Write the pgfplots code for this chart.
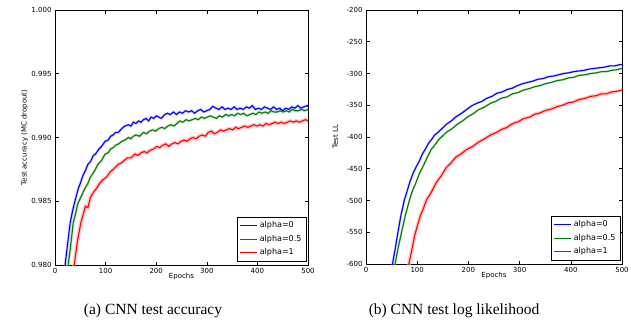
\documentclass[border=0pt]{standalone}
\usepackage{fontspec}
\setmainfont{Liberation Serif}
\setsansfont{DejaVu Sans}
\usepackage{pgfplots}
\usepackage{pgfplotstable}
\pgfplotsset{compat=1.18}
\definecolor{mblue}{rgb}{0,0,1}
\definecolor{mgreen}{rgb}{0,0.5,0}
\definecolor{mred}{rgb}{1,0,0}

\pgfplotstableread{
x y
10 0.9755
15 0.9780
20 0.9800
25 0.9817
30 0.9833
35 0.9843
40 0.9851
46 0.9860
50 0.9864
55 0.9870
60 0.9874
65 0.9879
70 0.9881
76 0.9886
80 0.9887
87 0.9891
92 0.9893
99 0.9897
105 0.9898
110 0.9901
115 0.9902
120 0.9904
125 0.9904
132 0.9907
138 0.9909
145 0.9910
150 0.9909
155 0.9912
160 0.9911
165 0.9913
170 0.9912
175 0.9914
180 0.9915
185 0.9913
190 0.9916
195 0.9915
200 0.9917
205 0.9916
210 0.9915
217 0.9918
222 0.9919
228 0.9918
234 0.9920
240 0.9918
246 0.9920
252 0.9919
258 0.9921
264 0.9920
270 0.9921
276 0.9919
282 0.9921
288 0.9922
294 0.9920
300 0.9921
306 0.9922
312 0.99245
318 0.9923
324 0.9922
330 0.9924
336 0.9922
342 0.9923
348 0.9922
354 0.9924
360 0.9922
366 0.9923
372 0.9922
378 0.9924
384 0.9923
390 0.9925
396 0.9922
402 0.9923
408 0.9922
414 0.9924
420 0.9923
426 0.9922
432 0.9924
438 0.9922
444 0.9923
450 0.9921
456 0.9923
462 0.9922
468 0.9924
474 0.9923
480 0.9925
486 0.9923
492 0.9924
498 0.9925
500 0.9924
}\accblue

\pgfplotstableread{
x y
15 0.9760
20 0.9780
26 0.9800
30 0.9812
36 0.9833
40 0.9839
45 0.9848
52 0.9854
59 0.9860
65 0.9864
70 0.9869
77 0.9873
85 0.9879
92 0.9882
99 0.9887
105 0.9888
110 0.9891
115 0.9892
120 0.9894
126 0.9895
132 0.9897
138 0.9898
145 0.9900
150 0.9899
155 0.9901
160 0.9902
167 0.9901
175 0.9904
181 0.9903
187 0.9905
193 0.9906
199 0.9905
205 0.9907
211 0.9908
217 0.9907
223 0.9909
229 0.9910
235 0.9909
241 0.9911
247 0.9913
253 0.9912
259 0.9914
265 0.9913
271 0.9914
277 0.9915
283 0.9914
289 0.9916
295 0.9915
301 0.9916
307 0.9917
313 0.9916
319 0.9915
325 0.9917
331 0.9916
337 0.9918
343 0.9917
349 0.9918
355 0.9917
361 0.9919
367 0.9918
373 0.9919
379 0.9917
385 0.9918
391 0.9919
397 0.9918
403 0.9920
409 0.9919
415 0.9920
421 0.9919
427 0.9921
433 0.9920
439 0.9920
445 0.9921
451 0.9920
457 0.9921
463 0.9920
469 0.9922
475 0.9921
481 0.9921
487 0.9922
493 0.9921
500 0.9922
}\accgreen

\pgfplotstableread{
x y
28 0.9760
33 0.9782
38 0.9800
44 0.9818
51 0.9833
56 0.9840
60 0.9846
65 0.9845
70 0.9853
76 0.9857
82 0.9860
88 0.9864
95 0.9867
102 0.9869
109 0.9873
115 0.9875
120 0.9877
125 0.9879
131 0.9880
137 0.9882
143 0.9884
150 0.9884
158 0.9887
164 0.9886
170 0.9888
176 0.9889
182 0.9888
188 0.9890
195 0.9891
201 0.9893
207 0.9892
213 0.9894
219 0.9895
225 0.9893
231 0.9895
237 0.9896
243 0.9895
249 0.9897
255 0.9898
261 0.9897
267 0.9899
273 0.9900
279 0.9899
285 0.9901
291 0.9902
297 0.9901
303 0.9904
309 0.9905
315 0.9903
321 0.9904
327 0.9906
333 0.9905
339 0.9906
345 0.9907
351 0.9906
357 0.9908
363 0.9907
369 0.9908
375 0.9909
381 0.9908
387 0.9909
393 0.9910
399 0.9909
405 0.9910
411 0.9909
417 0.9911
423 0.9910
429 0.9911
435 0.9912
441 0.9911
447 0.9912
453 0.9911
459 0.9912
465 0.9913
471 0.9912
477 0.9913
483 0.9912
489 0.9913
495 0.9914
500 0.9913
}\accred

\pgfplotstableread{
x y
45 -640
52 -599
57 -576
62 -552
68 -524
75 -499
80 -486
86 -470
92 -457
98 -447
104 -438
110 -427
116 -419
122 -410
128 -404
134 -397
140 -393
148 -387
157 -380
166 -375
176 -368
186 -363
196 -357
206 -351
216 -347
226 -344
236 -339
246 -336
256 -331
266 -329
276 -325
286 -323
296 -319
306 -316
316 -314
326 -312
336 -309
346 -308
356 -305
366 -304
376 -302
386 -300
396 -299
406 -297
416 -296
426 -295
436 -293
446 -292
456 -291
466 -290
476 -288
486 -288
496 -286
500 -286
}\llblue

\pgfplotstableread{
x y
50 -640
57 -599
63 -574
70 -548
77 -523
85 -499
91 -484
98 -471
104 -458
111 -447
119 -433
127 -420
134 -413
142 -404
150 -398
158 -392
168 -387
178 -380
188 -375
199 -368
210 -363
220 -357
231 -353
243 -347
253 -344
264 -339
275 -337
286 -332
297 -330
308 -326
318 -324
329 -321
340 -319
351 -316
362 -314
374 -311
384 -310
395 -307
405 -306
416 -303
428 -302
439 -300
450 -299
460 -297
470 -297
480 -295
490 -294
500 -292
}\llgreen

\pgfplotstableread{
x y
78 -640
84 -599
90 -576
95 -555
100 -541
106 -524
112 -513
118 -499
127 -488
137 -472
147 -461
157 -448
166 -441
175 -432
185 -427
196 -420
208 -415
220 -408
231 -403
243 -397
254 -393
265 -388
275 -385
286 -379
297 -376
308 -371
319 -369
330 -364
340 -362
351 -358
362 -356
374 -352
384 -350
395 -346
405 -345
416 -341
428 -339
439 -336
450 -335
460 -332
470 -332
480 -329
490 -328
500 -326
}\llred

\pgfplotsset{
  mystyle/.style={
    scale only axis,
    anchor=south west,
    xmin=0, xmax=500,
    xtick={0,100,200,300,400,500},
    font=\sffamily\fontsize{7}{8}\selectfont,
    /pgf/number format/assume math mode=true,
    tick label style={font=\sffamily\fontsize{7}{8}\selectfont},
    axis line style={line width=0.9pt},
    major tick length=3.5pt,
    tick style={line width=0.6pt, black},
    xlabel={Epochs},
    xlabel style={at={(axis description cs:0.5,-0.047)}, anchor=center},
    legend style={font=\sffamily\fontsize{8}{9.5}\selectfont,
      at={(0.995,0.015)}, anchor=south east, draw=black, line width=0.6pt,
      inner xsep=3pt, inner ysep=2.5pt, row sep=2pt, cells={anchor=west}},
    legend image code/.code={\draw[#1, line width=1pt] (0pt,0pt) -- (17pt,0pt);},
    clip=true,
  },
}

\begin{document}
\begin{tikzpicture}
\useasboundingbox (0,0) rectangle (631pt,330pt);
\begin{axis}[mystyle,
  at={(55pt,65pt)}, width=253pt, height=255pt,
  ymin=0.980, ymax=1.000,
  ytick={0.980,0.985,0.990,0.995,1.000},
  yticklabel style={/pgf/number format/.cd, fixed, fixed zerofill, precision=3},
  ylabel={Test accuracy (MC dropout)},
  ylabel style={at={(axis description cs:-0.12,0.5)}, anchor=center},
]
\addplot[mblue!35, opacity=0.6, line width=2.6pt, forget plot] table {\accblue};
\addplot[mgreen!35, opacity=0.6, line width=2.6pt, forget plot] table {\accgreen};
\addplot[mred!35, opacity=0.6, line width=3.8pt, forget plot] table {\accred};
\addplot[mblue, line width=1.1pt] table {\accblue};
\addplot[mgreen, line width=1.1pt] table {\accgreen};
\addplot[mred, line width=1.1pt] table {\accred};
\legend{alpha=0, alpha=0.5, alpha=1}
\end{axis}

\begin{axis}[mystyle,
  at={(366pt,66pt)}, width=256pt, height=254pt,
  ymin=-600, ymax=-200,
  ytick={-600,-550,-500,-450,-400,-350,-300,-250,-200},
  ylabel={Test LL},
  ylabel style={at={(axis description cs:-0.12,0.5)}, anchor=center},
]
\addplot[mblue!35, opacity=0.6, line width=2.2pt, forget plot] table {\llblue};
\addplot[mgreen!35, opacity=0.6, line width=2.2pt, forget plot] table {\llgreen};
\addplot[mred!35, opacity=0.6, line width=3.8pt, forget plot] table {\llred};
\addplot[mblue, line width=1.1pt] table {\llblue};
\addplot[mgreen, line width=1.1pt] table {\llgreen};
\addplot[mred, line width=1.1pt] table {\llred};
\legend{alpha=0, alpha=0.5, alpha=1}
\end{axis}

\node[font=\fontsize{15.5}{17}\selectfont] at (153pt,19pt) {(a) CNN test accuracy};
\node[font=\fontsize{15.5}{17}\selectfont] at (454pt,19pt) {(b) CNN test log likelihood};
\end{tikzpicture}
\end{document}
